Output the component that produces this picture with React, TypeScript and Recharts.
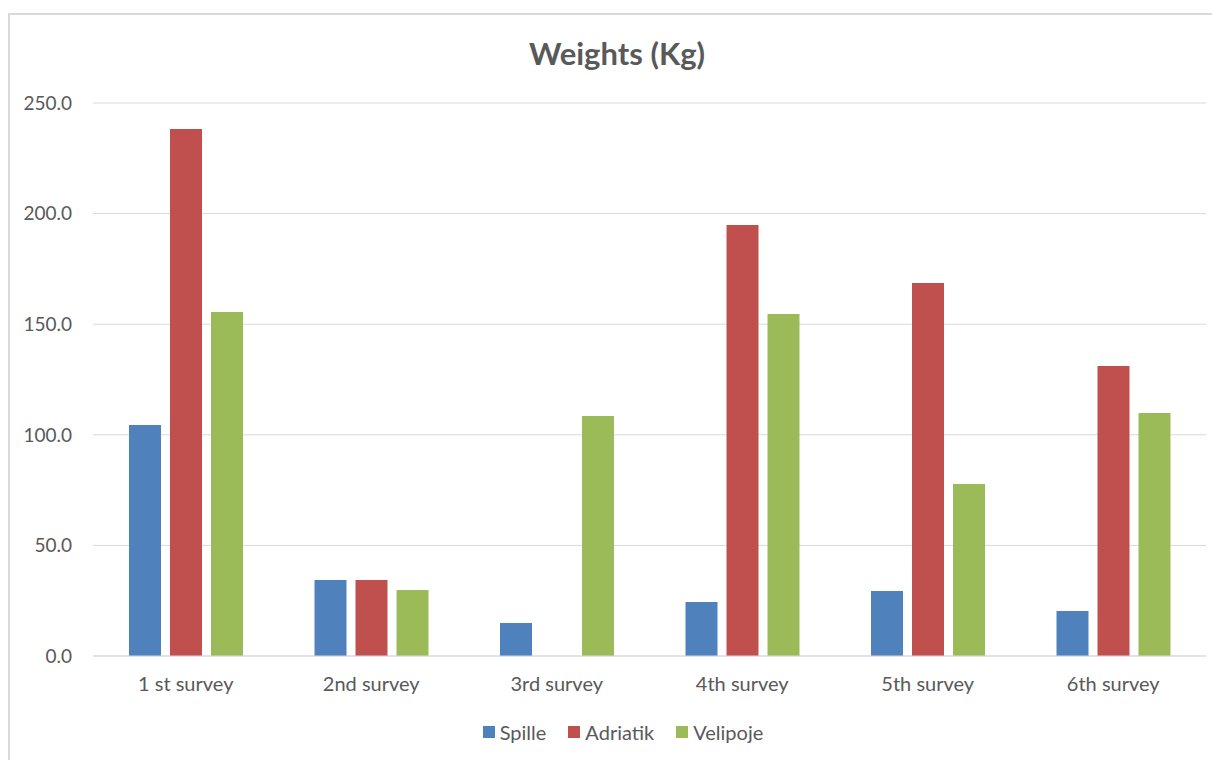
import { BarChart, Bar, XAxis, YAxis, CartesianGrid, Legend } from 'recharts'

const surveys = ['1 st survey', '2nd survey', '3rd survey', '4th survey', '5th survey', '6th survey']
const spille = [104.4, 34.4, 14.9, 24.4, 29.4, 20.3]
const adriatik = [238.2, 34.4, 0, 194.8, 168.6, 131.1]
const velipoje = [155.5, 29.8, 108.5, 154.6, 77.8, 109.9]
const yTicks = [0, 50, 100, 150, 200, 250]

const seriesNames = ['Spille', 'Adriatik', 'Velipoje']
const seriesColors = ['#4f81bd', '#c0504d', '#9bbb59']

const data = surveys.map((name, i) => ({
  name,
  Spille: spille[i],
  Adriatik: adriatik[i],
  Velipoje: velipoje[i],
}))

const FONT = 'Lato, "Open Sans", sans-serif'
const TEXT = '#595959'

const LegendRow = () => (
  <div
    style={{
      display: 'flex',
      justifyContent: 'center',
      gap: 22,
      paddingLeft: 30,
      fontSize: 20,
      fontFamily: FONT,
      color: TEXT,
      height: 24,
      alignItems: 'center',
    }}
  >
    {seriesNames.map((n, i) => (
      <span key={n} style={{ display: 'flex', alignItems: 'center' }}>
        <span
          style={{
            display: 'inline-block',
            width: 12,
            height: 12,
            background: seriesColors[i],
            marginRight: 5,
          }}
        />
        {n}
      </span>
    ))}
  </div>
)

export default function App() {
  return (
    <div
      style={{
        position: 'relative',
        marginTop: 5,
        width: 1203,
        height: 745,
        border: '2px solid #d9d9d9',
        borderBottom: 'none',
        background: '#fff',
        fontFamily: FONT,
      }}
    >
      <div
        style={{
          position: 'absolute',
          top: 19,
          left: 0,
          width: 1214,
          textAlign: 'center',
          fontSize: 31,
          fontWeight: 700,
          color: TEXT,
        }}
      >
        Weights (Kg)
      </div>
      <BarChart
        width={1200}
        height={745}
        data={data}
        margin={{ top: 88, right: 4, left: 0, bottom: 16 }}
        barSize={32}
        barGap={9}
      >
        <CartesianGrid vertical={false} stroke="#d9d9d9" strokeWidth={1} />
        <XAxis
          dataKey="name"
          height={64}
          tickSize={0}
          tickMargin={21}
          axisLine={{ stroke: '#d9d9d9' }}
          tick={{ fill: TEXT, fontSize: 20, fontFamily: FONT }}
        />
        <YAxis
          width={83}
          domain={[0, 250]}
          ticks={yTicks}
          tickSize={0}
          tickMargin={21}
          axisLine={false}
          tickFormatter={(v: number) => v.toFixed(1)}
          tick={{ fill: TEXT, fontSize: 19, fontFamily: FONT }}
        />
        <Legend verticalAlign="bottom" content={<LegendRow />} />
        {seriesNames.map((n, i) => (
          <Bar key={n} dataKey={n} fill={seriesColors[i]} isAnimationActive={false} />
        ))}
      </BarChart>
    </div>
  )
}
